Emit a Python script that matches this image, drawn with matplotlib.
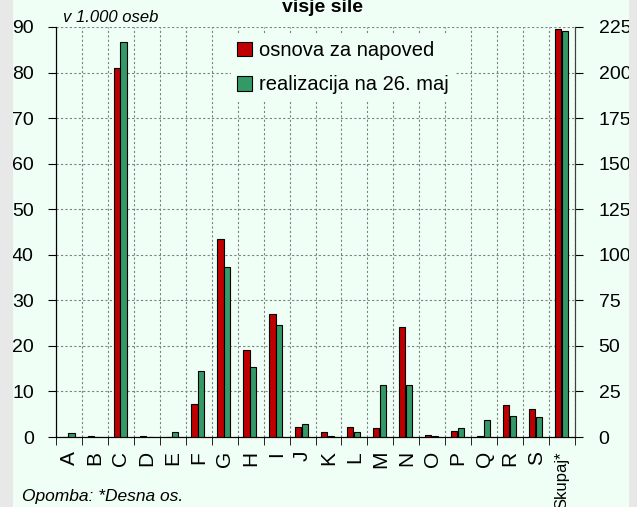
import matplotlib.pyplot as plt
import matplotlib.patches as mpatches
import numpy as np

categories = ['A', 'B', 'C', 'D', 'E', 'F', 'G', 'H', 'I', 'J', 'K', 'L', 'M',
              'N', 'O', 'P', 'Q', 'R', 'S', 'Skupaj*']
# sectors A..S on the left axis (thousand persons)
osnova = [0.0, 0.2, 80.9, 0.2, 0.0, 7.3, 43.5, 19.2, 27.0, 2.3, 1.0, 2.3, 1.9,
          24.1, 0.4, 1.4, 0.2, 7.1, 6.1]
realizacija = [0.9, 0.0, 86.6, 0.0, 1.2, 14.4, 37.4, 15.4, 24.6, 2.9, 0.3, 1.0,
               11.5, 11.5, 0.3, 1.9, 3.7, 4.6, 4.4]
# total on the right axis
skupaj_osnova = 224.0
skupaj_realizacija = 222.8

red = '#C00000'
green = '#339966'
bg = '#F0FFF5'
plt.rcParams['font.family'] = ['Liberation Sans', 'DejaVu Sans']

fig = plt.figure(figsize=(6.37, 5.07), dpi=100, facecolor=bg)
fig.patches.append(mpatches.Rectangle((0, 0), 13 / 637, 1, transform=fig.transFigure,
                                      facecolor='#E8E8E8', edgecolor='none', zorder=0))
fig.patches.append(mpatches.Rectangle((629 / 637, 0), 8 / 637, 1, transform=fig.transFigure,
                                      facecolor='#E8E8E8', edgecolor='none', zorder=0))

ax = fig.add_axes([56 / 637, 1 - 437 / 507, 519 / 637, 410 / 507])
ax.set_facecolor(bg)
ax2 = ax.twinx()

n = len(categories)
x = np.arange(n)
w = 0.24
xs = x[:-1]
ax.bar(xs - 0.16, osnova, w, color=red, edgecolor='black', linewidth=0.8,
       label='osnova za napoved', zorder=3)
ax.bar(xs + 0.10, realizacija, w, color=green, edgecolor='black', linewidth=0.8,
       label='realizacija na 26. maj', zorder=3)
ax2.bar([x[-1] - 0.16], [skupaj_osnova], w, color=red, edgecolor='black', linewidth=0.8, zorder=3)
ax2.bar([x[-1] + 0.10], [skupaj_realizacija], w, color=green, edgecolor='black', linewidth=0.8, zorder=3)

ax.set_xlim(-0.5, n - 0.5)
ax.set_ylim(0, 90)
ax2.set_ylim(0, 225)
ax.set_yticks(np.arange(0, 91, 10))
ax2.set_yticks(np.arange(0, 226, 25))

# category labels at centres, ticks at the boundaries
ax.set_xticks(x)
ax.set_xticklabels(categories, rotation=90, fontsize=15)
ax.get_xticklabels()[-1].set_fontsize(12)
ax.set_xticks(np.arange(-0.5, n, 1), minor=True)
ax.tick_params(axis='x', which='major', length=0, pad=10)
ax.tick_params(axis='x', which='minor', length=6, direction='out', color='black')
ax.tick_params(axis='y', labelsize=14, length=6, direction='out', pad=10)
ax2.tick_params(axis='y', labelsize=14, length=6, direction='out', pad=11)

ax.grid(True, which='minor', axis='x', linestyle=(0, (2, 2)), color='#808080', linewidth=0.8)
ax.grid(True, which='major', axis='y', linestyle=(0, (2, 2)), color='#808080', linewidth=0.8)
ax.set_axisbelow(True)

for a in (ax, ax2):
    a.spines['top'].set_visible(False)
    a.spines['left'].set_color('black')
    a.spines['right'].set_color('#404040')
    a.spines['bottom'].set_color('black')

leg = ax.legend(loc='upper left', bbox_to_anchor=(0.318, 1.005), fontsize=14.5, frameon=True,
                handlelength=0.75, handleheight=0.75, handletextpad=0.35, labelspacing=0.75,
                borderpad=0.3)
leg.get_frame().set_facecolor(bg)
leg.get_frame().set_edgecolor('none')
leg.get_frame().set_alpha(1)
leg.set_zorder(5)

fig.text(63 / 637, 1 - 17 / 507, 'v 1.000 oseb', fontsize=12, style='italic', va='center')
fig.text(322 / 637, 1 - 12 / 507, 'visje sile', fontsize=14, fontweight='bold',
         ha='center', va='baseline')
fig.text(22 / 637, 1 - 496 / 507, 'Opomba: *Desna os.', fontsize=12.5, style='italic', va='center')

fig.savefig('out.png', dpi=100, facecolor=bg)
